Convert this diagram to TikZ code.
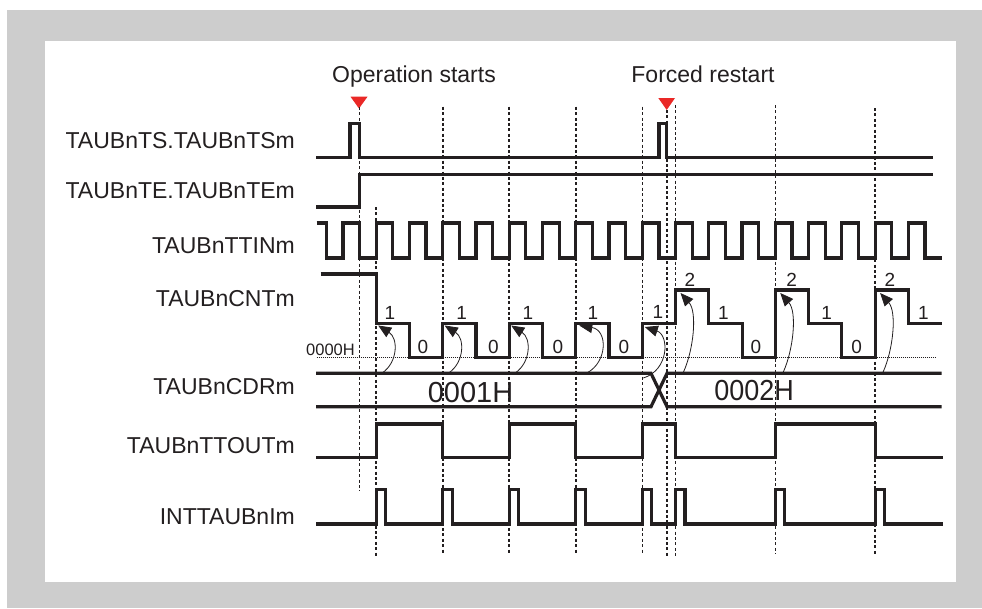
\documentclass[tikz,border=0pt]{standalone}
\usepackage{fontspec}
\setmainfont{Liberation Sans}
\usepackage{graphicx}
\usetikzlibrary{arrows.meta}
\definecolor{ink}{RGB}{35,31,32}
\definecolor{framegray}{RGB}{205,205,205}
\definecolor{markred}{RGB}{234,40,38}
\begin{document}
\begin{tikzpicture}[x=1pt,y=-1pt,
  sig/.style={line width=3.2pt, draw=ink, line join=miter},
  guide/.style={line width=1.6pt, draw=ink, dash pattern=on 3pt off 2.4pt},
  zeroline/.style={line width=0.9pt, draw=ink, dash pattern=on 1pt off 1pt},
  reload/.style={line width=0.8pt, draw=ink, -{Triangle[length=13pt,width=11pt]}},
  lbl/.style={anchor=base east, inner sep=0pt, text=ink, font=\fontsize{23}{27}\selectfont},
  note/.style={anchor=base, inner sep=0pt, text=ink, font=\fontsize{23}{27}\selectfont},
  digit/.style={anchor=center, inner sep=0pt, text=ink, font=\fontsize{19}{22}\selectfont},
  value/.style={anchor=base, inner sep=0pt, text=ink, font=\fontsize{29}{32}\selectfont},
  marker/.style={fill=markred, draw=none}
]
\useasboundingbox (0,0) rectangle (982,608);
% frame
\fill[white] (0,0) rectangle (982,608);
\fill[framegray] (7,10) rectangle (982,608);
\fill[white] (45,41) rectangle (956,582);

% titles and markers
\node[note] (opstart) at (414,82) {Operation starts};
\node[note] (restart) at (703,82) {Forced restart};
\fill[marker] (350.5,96.7) -- (367.5,96.7) -- (359,108.5) -- cycle;
\fill[marker] (658.3,98) -- (675,98) -- (666.7,110) -- cycle;

% signal names
\node[lbl] (ts)   at (295,148.5) {TAUBnTS.TAUBnTSm};
\node[lbl] (te)   at (295,198.5) {TAUBnTE.TAUBnTEm};
\node[lbl] (ttin) at (295,253)   {TAUBnTTINm};
\node[lbl] (cnt)  at (295,306)   {TAUBnCNTm};
\node[lbl] (cdr)  at (295,394)   {TAUBnCDRm};
\node[lbl] (tout) at (295,453)   {TAUBnTTOUTm};
\node[lbl] (intr) at (295,524)   {INTTAUBnIm};

% dashed guides
\draw[guide] (359.6,107) -- (359.6,490.7);
\draw[guide] (376.2,207) -- (376.2,556.7);
\foreach \gx in {442.7,509.2,575.8,642.3} {\draw[guide] (\gx,106.7) -- (\gx,554);}
\draw[guide] (666.7,110) -- (666.7,556.7);
\draw[guide] (675.5,105) -- (675.5,556.7);
\draw[guide] (775.3,105) -- (775.3,554);
\draw[guide] (875.1,108) -- (875.1,556);

% TS
\draw[sig] (316,157.7) -- (350,157.7) -- (350,123.3) -- (359.6,123.3) -- (359.6,157.7)
  -- (658.9,157.7) -- (658.9,123.3) -- (666.7,123.3) -- (666.7,157.7) -- (933,157.7);
% TE
\draw[sig] (316,207) -- (359.6,207) -- (359.6,174.3) -- (933,174.3);
% clock
\draw[sig] (316.7,223) foreach \k in {0,2,...,34} {
  -- ({326.3+16.63*\k},223) -- ({326.3+16.63*\k},258)
  -- ({326.3+16.63*(\k+1)},258) -- ({326.3+16.63*(\k+1)},223) }
  -- (925,223) -- (925,258) -- (941.7,258);

% counter
\draw[zeroline] (316.7,357.7) -- (935,357.7);
\node[anchor=base west, inner sep=0pt, text=ink, font=\fontsize{16.5}{18}\selectfont] (zero) at (306,355) {0000H};
\draw[sig] (320.7,274) -- (376.2,274) -- (376.2,323.3) -- (409.5,323.3) -- (409.5,357.7)
  -- (442.7,357.7) -- (442.7,323.3) -- (476,323.3) -- (476,357.7) -- (509.2,357.7)
  -- (509.2,323.3) -- (542.5,323.3) -- (542.5,357.7) -- (575.8,357.7) -- (575.8,323.3)
  -- (609,323.3) -- (609,357.7) -- (642.3,357.7) -- (642.3,323.3) -- (675.5,323.3)
  -- (675.5,290) -- (708.8,290) -- (708.8,323.3) -- (742.1,323.3) -- (742.1,357.7)
  -- (775.3,357.7) -- (775.3,290) -- (808.6,290) -- (808.6,323.3) -- (841.8,323.3)
  -- (841.8,357.7) -- (875.1,357.7) -- (875.1,290) -- (908.4,290) -- (908.4,323.3)
  -- (941.7,323.3);
% counter values
\foreach \dx/\dv/\dy [count=\i] in {390/1/313, 461.7/1/313, 528/1/313, 593/1/313, 658/1/312,
  423/0/347, 493.3/0/347, 558/0/347, 624/0/347, 756/0/347, 856.7/0/347,
  690/2/280, 791.7/2/280, 890/2/280,
  723.3/1/313, 826.7/1/313, 923.3/1/313}
  {\node[digit] (d\i) at (\dx,\dy) {\dv};}

% CDR
\draw[sig] (316,373.3) -- (651,373.3) -- (667,406.7) -- (941.7,406.7);
\draw[sig] (316,406.7) -- (651,406.7) -- (667,373.3) -- (941.7,373.3);
\node[value] (cdr1) at (470.5,402) {0001H};
\node[value] (cdr2) at (754,400) {\scalebox{0.93}[1]{0002H}};

% reload arrows
\foreach \rx in {376.2,442.7,509.2}
  {\draw[reload] (\rx+6,373) .. controls (\rx+22,362) and (\rx+22,338) .. (\rx+2,325.5);}
\draw[reload] (586.8,373) .. controls (607.8,362) and (607.8,330) .. (579.3,325.5);
\draw[reload] (643.3,378) .. controls (669.3,370) and (669.3,335) .. (644.8,327);
\foreach \rx in {675.5,775.3,875.1}
  {\draw[reload] (\rx+8,372) .. controls (\rx+18,350) and (\rx+22,312) .. (\rx+5,293);}

% TTOUT
\draw[sig] (316,457.3) -- (376.2,457.3) -- (376.2,424) -- (442.7,424) -- (442.7,457.3)
  -- (509.2,457.3) -- (509.2,424) -- (575.8,424) -- (575.8,457.3) -- (642.3,457.3)
  -- (642.3,424) -- (675.5,424) -- (675.5,457.3) -- (775.3,457.3) -- (775.3,424)
  -- (875.1,424) -- (875.1,457.3) -- (943.3,457.3);
% INT
\draw[sig] (316,524) foreach \p in {376.2,442.7,509.2,575.8,642.3,675.5,775.3,875.1} {
  -- (\p,524) -- (\p,489.3) -- ({\p+9.5},489.3) -- ({\p+9.5},524) } -- (943.3,524);
\end{tikzpicture}
\end{document}
